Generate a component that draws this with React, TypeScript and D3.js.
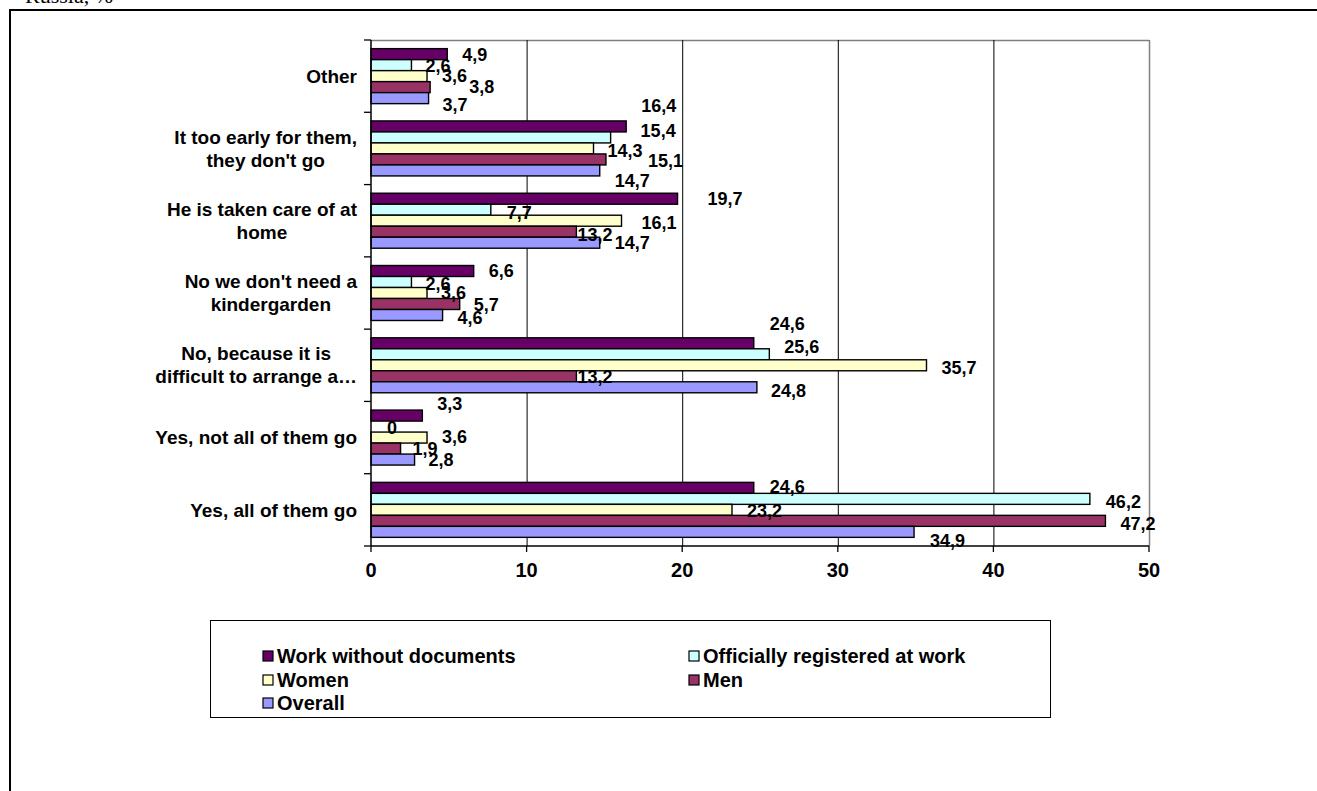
import React from 'react';
import * as d3 from 'd3';

// Categories, top to bottom ("\n" splits a label into lines)
const categories = [
  'Other',
  "It too early for them,\nthey don't go",
  'He is taken care of at\nhome',
  "No we don't need a\nkindergarden",
  'No, because it is\ndifficult to arrange a…',
  'Yes, not all of them go',
  'Yes, all of them go',
];

const seriesNames = [
  'Work without documents',
  'Officially registered at work',
  'Women',
  'Men',
  'Overall',
];

// Values in %, one per category
const workWithoutDocuments = [4.9, 16.4, 19.7, 6.6, 24.6, 3.3, 24.6];
const officiallyRegistered = [2.6, 15.4, 7.7, 2.6, 25.6, 0, 46.2];
const women = [3.6, 14.3, 16.1, 3.6, 35.7, 3.6, 23.2];
const men = [3.8, 15.1, 13.2, 5.7, 13.2, 1.9, 47.2];
const overall = [3.7, 14.7, 14.7, 4.6, 24.8, 2.8, 34.9];

const xTicks = [0, 10, 20, 30, 40, 50];

const seriesValues = [workWithoutDocuments, officiallyRegistered, women, men, overall];

const W = 1317;
const H = 791;
const FONT = "'Liberation Sans', Arial, sans-serif";

const colors = ['#660066', '#CCFFFF', '#FFFFCC', '#993366', '#9999FF'];

// Small per-label shifts [dx, dy] (px) so neighbouring labels don't collide
const labelShift: [number, number][][] = [
  [[1, 1], [0, 1], [1, 0], [25, 0], [0, 7]],
  [[1, -21], [16, -7], [0, 2], [28, 1], [1, 10]],
  [[16, 0], [2, 3], [6, 2], [-13, 3], [1, 0]],
  [[1, 0], [0, 2], [0, 0], [0, 1], [1, 3]],
  [[2, -20], [1, -8], [1, 2], [-13, 0], [0, 3]],
  [[1, -12], [2, 1], [1, -1], [-2, 0], [0, 0]],
  [[2, -1], [2, 3], [1, 1], [1, 3], [2, 9]],
];

const plot = { left: 371, right: 1149, top: 40, bottom: 546 };

const fmt = d3
  .formatLocale({ decimal: ',', thousands: ' ', grouping: [3], currency: ['', ''] })
  .format('.1~f');

let measureCtx: CanvasRenderingContext2D | null = null;
function textWidth(s: string, font: string): number {
  if (!measureCtx) {
    const c = document.createElement('canvas');
    measureCtx = c.getContext('2d');
  }
  if (!measureCtx) return s.length * 9;
  measureCtx.font = font;
  return measureCtx.measureText(s).width;
}

export default function App() {
  const x = d3.scaleLinear().domain([0, 50]).range([plot.left, plot.right]);
  const y = d3.scaleBand<string>().domain(categories).range([plot.top, plot.bottom]).padding(0);
  const bw = y.bandwidth();
  const groupH = bw * (55 / 72.3);
  const inner = d3
    .scaleBand<string>()
    .domain(seriesNames)
    .range([(bw - groupH) / 2, (bw + groupH) / 2])
    .padding(0);

  const catSize = 19;
  const catFont = `bold ${catSize}px ${FONT}`;
  const catRight = 357;
  const lineH = 23;

  const legend = { x: 210, y: 620, w: 840, h: 97 };
  const legendCols = [270, 696];
  const legendRows = [656, 680, 703];

  const boundaries = d3.range(categories.length + 1).map((i) => plot.top + i * bw);

  return (
    <svg
      width={W}
      height={H}
      style={{ position: 'absolute', left: 0, top: 0, background: '#fff' }}
      fontFamily={FONT}
    >
      <rect x={0} y={0} width={W} height={H} fill="#fff" />
      {/* heading of the surrounding cell, cut by the page top */}
      <text x={25} y={3} fontFamily="'Liberation Serif', 'Times New Roman', serif" fontSize={22}>
        Russia, %
      </text>
      {/* cell border */}
      <line x1={9} y1={10} x2={W} y2={10} stroke="#000" strokeWidth={2} />
      <line x1={10} y1={9} x2={10} y2={H} stroke="#000" strokeWidth={2} />

      {/* plot frame */}
      <line x1={plot.left} y1={plot.top + 0.5} x2={plot.right} y2={plot.top + 0.5} stroke="#808080" strokeWidth={1.5} />
      <line x1={plot.right + 0.5} y1={plot.top} x2={plot.right + 0.5} y2={plot.bottom} stroke="#808080" strokeWidth={1.5} />

      {/* vertical gridlines */}
      {xTicks.slice(1, -1).map((t) => (
        <line key={`g${t}`} x1={x(t) + 0.5} x2={x(t) + 0.5} y1={plot.top} y2={plot.bottom} stroke="#000" strokeWidth={1} />
      ))}

      {/* bars */}
      {categories.map((c, ci) =>
        seriesNames.map((s, si) => {
          const v = seriesValues[si][ci];
          const y0 = (y(c) ?? 0) + (inner(s) ?? 0);
          return (
            <rect
              key={`b${ci}-${si}`}
              x={x(0)}
              y={y0}
              width={x(v) - x(0)}
              height={inner.bandwidth()}
              fill={colors[si]}
              stroke="#000"
              strokeWidth={1.4}
            />
          );
        })
      )}

      {/* axes */}
      <line x1={plot.left} y1={plot.top} x2={plot.left} y2={plot.bottom} stroke="#000" strokeWidth={1.5} />
      <line x1={plot.left} y1={plot.bottom} x2={plot.right} y2={plot.bottom} stroke="#000" strokeWidth={1.5} />
      {boundaries.map((b, i) => (
        <line key={`yt${i}`} x1={plot.left - 7} x2={plot.left} y1={b} y2={b} stroke="#000" strokeWidth={1.3} />
      ))}
      {xTicks.map((t) => (
        <g key={`xt${t}`}>
          <line x1={x(t)} x2={x(t)} y1={plot.bottom} y2={plot.bottom + 6} stroke="#000" strokeWidth={1.3} />
          <text x={x(t)} y={plot.bottom + 31} textAnchor="middle" fontSize={20} fontWeight="bold">
            {t}
          </text>
        </g>
      ))}

      {/* category labels: lines centred inside a right-aligned block */}
      {categories.map((c) => {
        const lines = c.split('\n');
        const maxW = d3.max(lines, (l) => textWidth(l, catFont)) ?? 0;
        const cx = catRight - maxW / 2;
        const mid = (y(c) ?? 0) + bw / 2;
        const first = mid - ((lines.length - 1) * lineH) / 2;
        return (
          <text key={`c${c}`} textAnchor="middle" fontSize={catSize} fontWeight="bold">
            {lines.map((l, li) => (
              <tspan key={li} x={cx} y={first + li * lineH} dy="0.35em">
                {l}
              </tspan>
            ))}
          </text>
        );
      })}

      {/* value labels */}
      {categories.map((c, ci) =>
        seriesNames.map((s, si) => {
          const v = seriesValues[si][ci];
          const [dx, dy] = labelShift[ci][si];
          const cy = (y(c) ?? 0) + (inner(s) ?? 0) + inner.bandwidth() / 2;
          return (
            <text
              key={`l${ci}-${si}`}
              x={x(v) + 14 + dx}
              y={cy + dy}
              dy="0.35em"
              fontSize={18}
              fontWeight="bold"
            >
              {fmt(v)}
            </text>
          );
        })
      )}

      {/* legend */}
      <rect x={legend.x + 0.5} y={legend.y + 0.5} width={legend.w} height={legend.h} fill="#fff" stroke="#000" strokeWidth={1} />
      {seriesNames.map((s, i) => {
        const lx = legendCols[i % 2];
        const ly = legendRows[Math.floor(i / 2)];
        return (
          <g key={`lg${i}`}>
            <rect x={lx - 7} y={ly - 5} width={10} height={10} fill={colors[i]} stroke="#000" strokeWidth={1.2} />
            <text x={lx + 7} y={ly} dy="0.35em" fontSize={20} fontWeight="bold">
              {s}
            </text>
          </g>
        );
      })}
    </svg>
  );
}
